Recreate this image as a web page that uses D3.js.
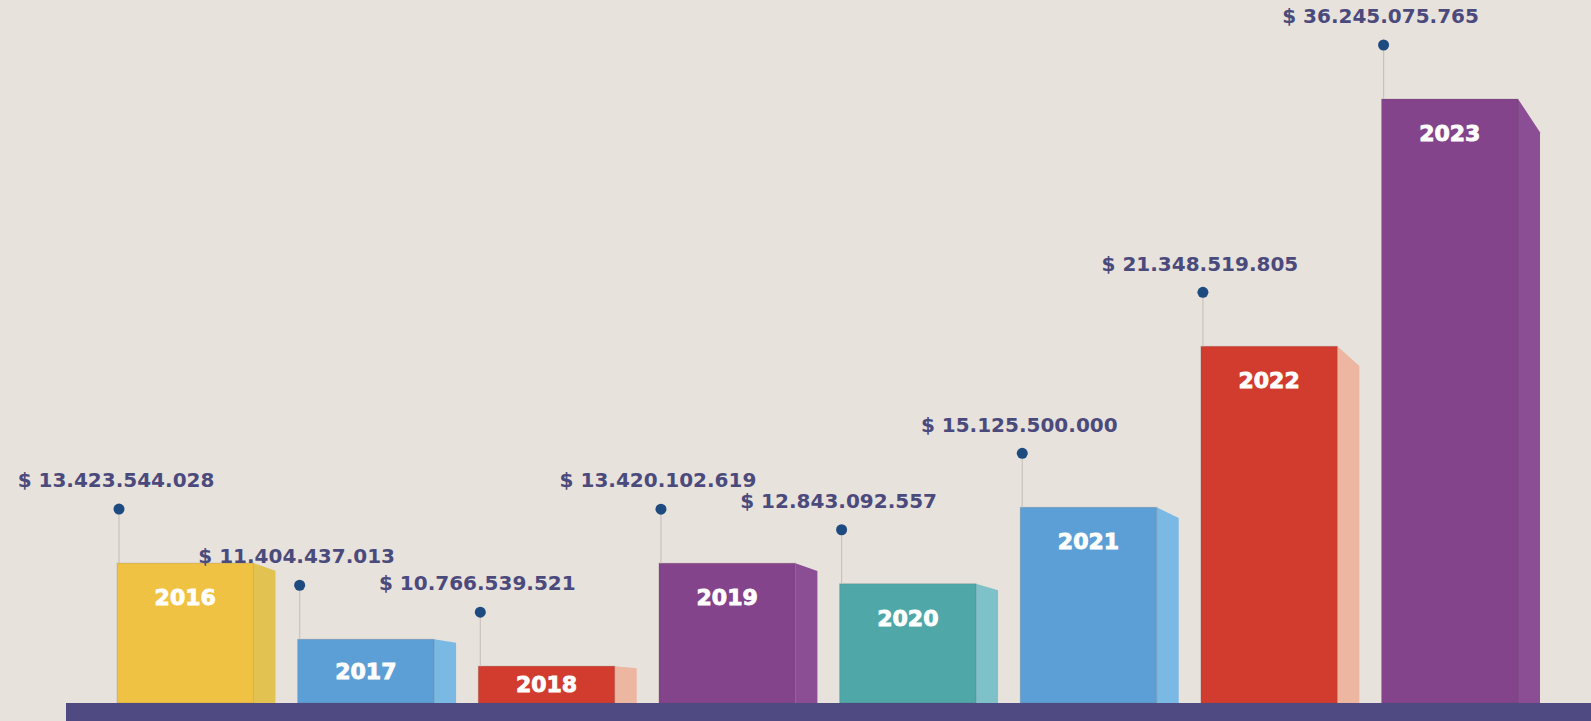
<!DOCTYPE html>
<html>
<head>
<meta charset="utf-8">
<script src="https://cdn.jsdelivr.net/npm/d3@7"></script>
<style>
  html, body { margin: 0; padding: 0; background: #e8e2dc; overflow: hidden; }
  svg { display: block; }
</style>
</head>
<body>
<div id="chart"></div>
<script>
// data
const years = ["2016", "2017", "2018", "2019", "2020", "2021", "2022", "2023"];
const values = [13423544028, 11404437013, 10766539521, 13420102619, 12843092557, 15125500000, 21348519805, 36245075765];
const frontColors = ["#f0c244", "#5c9fd6", "#d23c2f", "#84448b", "#4fa7a8", "#5c9fd6", "#d23c2f", "#84448b"];
const sideColors = ["#e2c251", "#7bb9e5", "#ecb6a0", "#8b4e94", "#7ec1c9", "#7bb9e5", "#ecb6a0", "#8b4e94"];

const width = 1591, height = 721;
const baseY = 703;
const sideW = 22;
const leader = 54;

const locale = d3.formatLocale({decimal: ",", thousands: ".", grouping: [3], currency: ["$ ", ""]});
const money = locale.format("$,");

const svg = d3.select("#chart")
    .append("svg")
    .attr("width", width)
    .attr("height", height);

svg.append("rect")
    .attr("width", width)
    .attr("height", height)
    .attr("fill", "#e8e2dc");

// x scale: band holds front face + side face
const x = d3.scaleBand()
    .domain(years)
    .range([117, 1540])
    .paddingInner(0.123)
    .paddingOuter(0);

// y scale (the original infographic is not linear, log fits it best)
const y = d3.scaleLog()
    .domain([9.95e9, d3.max(values)])
    .range([baseY, 99]);

const frontW = x.bandwidth() - sideW;

const data = years.map((yr, i) => ({
    year: yr,
    value: values[i],
    front: frontColors[i],
    side: sideColors[i]
}));

const bars = svg.append("g")
    .selectAll("g")
    .data(data)
    .enter().append("g")
    .attr("transform", d => `translate(${x(d.year)},0)`);

// side face (slanted top, deeper for taller bars)
bars.append("path")
    .attr("fill", d => d.side)
    .attr("d", d => {
        const top = y(d.value);
        const slant = (baseY - top) * 0.055;
        return `M${frontW},${top} L${frontW + sideW},${top + slant} L${frontW + sideW},${baseY} L${frontW},${baseY} Z`;
    });

// front face
bars.append("rect")
    .attr("x", 0)
    .attr("y", d => y(d.value))
    .attr("width", frontW)
    .attr("height", d => baseY - y(d.value))
    .attr("fill", d => d.front)
    .attr("stroke", "rgba(80,70,70,0.18)")
    .attr("stroke-width", 1);

// year label in the bar
bars.append("text")
    .attr("x", frontW / 2)
    .attr("y", d => Math.min(y(d.value) + 34, (y(d.value) + baseY) / 2))
    .attr("dy", "0.36em")
    .attr("text-anchor", "middle")
    .attr("fill", "#ffffff")
    .attr("stroke", "#ffffff")
    .attr("stroke-width", 0.9)
    .attr("font-family", "DejaVu Sans, sans-serif")
    .attr("font-weight", "bold")
    .attr("font-size", 22)
    .text(d => d.year);

// leader line + dot
bars.append("line")
    .attr("x1", 2).attr("x2", 2)
    .attr("y1", d => y(d.value) - leader)
    .attr("y2", d => y(d.value))
    .attr("stroke", "#c9c3bd")
    .attr("stroke-width", 1.2);

bars.append("circle")
    .attr("cx", 2)
    .attr("cy", d => y(d.value) - leader)
    .attr("r", 5.5)
    .attr("fill", "#1d4b80");

// value label
bars.append("text")
    .attr("x", -1)
    .attr("y", d => y(d.value) - leader - 29)
    .attr("dy", "0.36em")
    .attr("text-anchor", "middle")
    .attr("fill", "#4b4a7d")
    .attr("font-family", "DejaVu Sans, sans-serif")
    .attr("font-weight", "bold")
    .attr("font-size", 20)
    .text(d => money(d.value));

// base band
svg.append("rect")
    .attr("x", 66)
    .attr("y", baseY)
    .attr("width", width - 66)
    .attr("height", height - baseY)
    .attr("fill", "#4f4b82");
</script>
</body>
</html>
